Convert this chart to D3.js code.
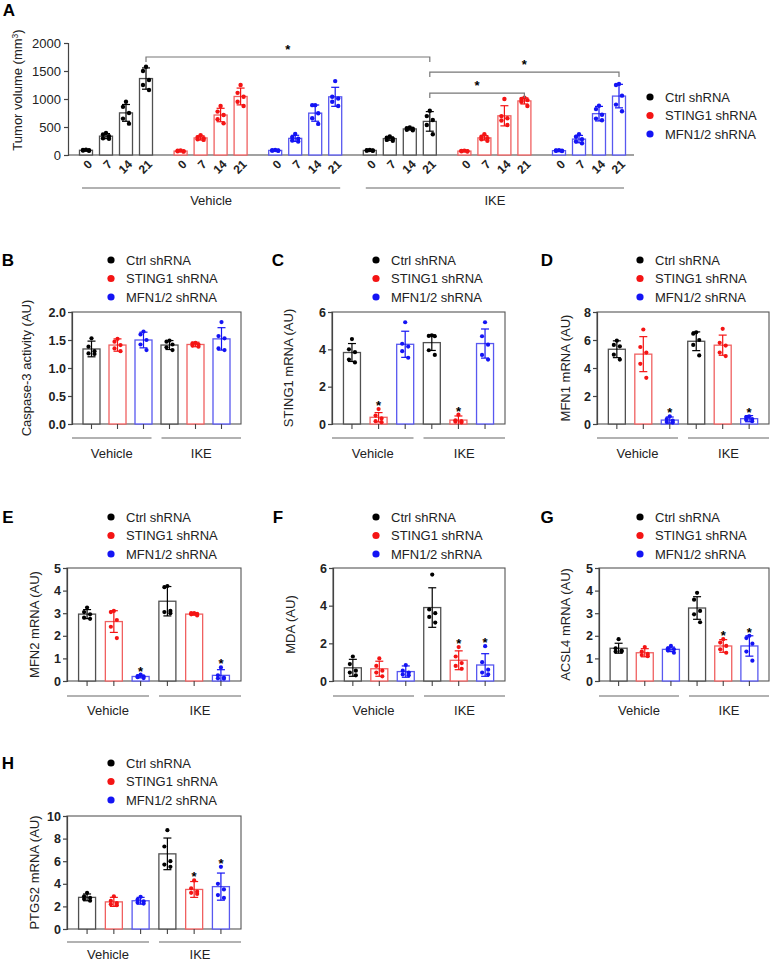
<!DOCTYPE html>
<html lang="en">
<head>
<meta charset="UTF-8">
<title>Tumor volume and ferroptosis markers</title>
<script src="https://d3js.org/d3.v7.min.js"></script>
<style>
  body { margin: 0; background: #fff; }
  svg { font-family: "Liberation Sans", Arial, sans-serif; display: block; }
</style>
</head>
<body>
<div id="fig"></div>
<script>
const groups = ["Ctrl shRNA", "STING1 shRNA", "MFN1/2 shRNA"];
const colors = ["#000000", "#f41414", "#1414f4"];
const barStroke = ["#505050", "#f06060", "#5858f0"];
const treatments = ["Vehicle", "IKE"];
const days = ["0", "7", "14", "21"];

// panel A, 6 groups: Vehicle ctrl/STING1/MFN, IKE ctrl/STING1/MFN ; 4 days each
const tumorMean = [
  [85, 337, 752, 1365], [70, 305, 714, 1045], [82, 297, 748, 1039],
  [82, 293, 466, 600], [70, 306, 700, 966], [78, 284, 738, 1052]
];
const tumorSD = [
  [10, 45, 150, 190], [8, 38, 120, 150], [6, 55, 145, 170],
  [6, 30, 20, 175], [7, 40, 180, 55], [7, 65, 130, 210]
];
const tumorPts = [
  [[95, 90, 85, 80, 75], [395, 365, 335, 300, 290], [950, 860, 750, 650, 560], [1575, 1500, 1340, 1250, 1160]],
  [[80, 75, 70, 65, 60], [355, 320, 300, 280, 270], [875, 775, 715, 640, 565], [1250, 1110, 1040, 950, 875]],
  [[90, 85, 80, 78, 75], [375, 320, 290, 260, 240], [890, 890, 745, 655, 555], [1320, 1040, 1010, 950, 875]],
  [[90, 85, 80, 78, 75], [330, 310, 290, 270, 255], [490, 480, 470, 450, 440], [790, 695, 625, 535, 370]],
  [[78, 74, 70, 66, 62], [370, 325, 300, 280, 255], [1000, 695, 655, 615, 535], [1025, 1000, 980, 950, 875]],
  [[85, 80, 78, 75, 70], [370, 325, 280, 240, 210], [880, 820, 720, 650, 620], [1270, 1250, 1060, 900, 780]]
];
// brackets: [groupA, groupB, y value] at day 21
const brackets = [[0, 3, 1750], [3, 5, 1480], [3, 4, 1105]];

// panels B-H, bar order: Vehicle ctrl, STING1, MFN ; IKE ctrl, STING1, MFN
const caspMean = [1.34, 1.41, 1.50, 1.41, 1.42, 1.52];
const caspSD = [0.14, 0.11, 0.14, 0.08, 0.04, 0.20];
const caspPts = [[1.53, 1.38, 1.30, 1.26, 1.25], [1.52, 1.47, 1.41, 1.35, 1.30], [1.65, 1.60, 1.50, 1.42, 1.32],
  [1.49, 1.47, 1.42, 1.37, 1.32], [1.45, 1.44, 1.42, 1.40, 1.38], [1.82, 1.57, 1.53, 1.35, 1.32]];

const stingMean = [3.83, 0.36, 4.27, 4.36, 0.21, 4.31];
const stingSD = [0.48, 0.25, 0.70, 0.42, 0.22, 0.78];
const stingPts = [[4.55, 4.0, 3.85, 3.45, 3.3], [0.8, 0.45, 0.3, 0.15, 0.1], [5.45, 4.3, 4.15, 3.9, 3.55],
  [4.75, 4.72, 4.7, 3.95, 3.7], [0.5, 0.2, 0.15, 0.12, 0.08], [5.45, 4.7, 4.25, 3.7, 3.45]];

const mfn1Mean = [5.34, 4.99, 0.28, 5.91, 5.63, 0.38];
const mfn1SD = [0.6, 1.25, 0.22, 0.67, 0.72, 0.22];
const mfn1Pts = [[5.95, 5.65, 5.55, 4.95, 4.6], [6.75, 5.5, 5.1, 4.3, 3.3], [0.55, 0.35, 0.25, 0.15, 0.1],
  [6.55, 6.45, 6.0, 5.65, 4.9], [6.8, 5.8, 5.6, 5.1, 4.85], [0.55, 0.5, 0.35, 0.3, 0.2]];

const mfn2Mean = [2.96, 2.63, 0.2, 3.53, 2.96, 0.25];
const mfn2SD = [0.2, 0.48, 0.06, 0.65, 0.05, 0.25];
const mfn2Pts = [[3.25, 3.05, 2.95, 2.8, 2.75], [3.1, 3.05, 2.7, 2.4, 1.9], [0.28, 0.22, 0.2, 0.17, 0.13],
  [4.2, 4.15, 3.1, 3.05, 3.0], [3.0, 3.0, 2.97, 2.95, 2.9], [0.6, 0.25, 0.15, 0.12, 0.1]];

const mdaMean = [0.7, 0.65, 0.5, 3.9, 1.1, 0.85];
const mdaSD = [0.45, 0.4, 0.3, 1.05, 0.5, 0.6];
const mdaPts = [[1.3, 0.9, 0.55, 0.45, 0.3], [1.2, 0.8, 0.55, 0.45, 0.25], [0.85, 0.55, 0.45, 0.35, 0.3],
  [5.65, 3.8, 3.6, 3.4, 3.1], [1.8, 1.3, 0.95, 0.8, 0.65], [1.85, 1.0, 0.6, 0.45, 0.35]];

const acslMean = [1.45, 1.25, 1.4, 3.23, 1.55, 1.55];
const acslSD = [0.22, 0.18, 0.1, 0.5, 0.28, 0.45];
const acslPts = [[1.85, 1.45, 1.35, 1.3, 1.3], [1.5, 1.3, 1.2, 1.15, 1.1], [1.55, 1.45, 1.4, 1.35, 1.25],
  [3.9, 3.6, 3.1, 2.95, 2.6], [1.85, 1.7, 1.55, 1.4, 1.25], [2.0, 1.9, 1.65, 1.3, 0.9]];

const ptgsMean = [2.8, 2.4, 2.5, 6.65, 3.5, 3.75];
const ptgsSD = [0.3, 0.4, 0.3, 1.4, 0.7, 1.2];
const ptgsPts = [[3.2, 2.9, 2.75, 2.65, 2.5], [2.9, 2.5, 2.3, 2.2, 2.1], [2.85, 2.6, 2.45, 2.35, 2.25],
  [8.75, 7.3, 6.0, 5.7, 5.5], [4.3, 3.6, 3.3, 3.2, 3.1], [5.5, 4.0, 3.5, 3.0, 2.75]];

const jitter = [0, -3, 3, -3, 3];

const svg = d3.select("#fig").append("svg").attr("width", 772).attr("height", 963);

// ---------- panel A ----------
const A = {left: 68, right: 634, top: 43, bottom: 155};
const yA = d3.scaleLinear().domain([0, 2000]).range([A.bottom, A.top]);
const xGroup = d3.scaleBand().domain(d3.range(6)).range([76, 76 + 6 * 94.6]);
const xDay = d3.scaleBand().domain(days).range([0, 80]).paddingInner(0.35).paddingOuter(0.175);
const cxA = (g, d) => xGroup(g) + xDay(d) + xDay.bandwidth() / 2;

const gA = svg.append("g");
gA.append("text").attr("x", 9).attr("y", 16).attr("text-anchor", "middle")
  .style("font-size", "17px").style("font-weight", "bold").text("A");

const axA = gA.append("g").attr("transform", `translate(${A.left},0)`)
  .call(d3.axisLeft(yA).tickValues([0, 500, 1000, 1500, 2000]).tickFormat(d3.format("d")).tickSize(4).tickPadding(3));
axA.selectAll("path, line").attr("stroke", "#444").attr("stroke-width", 1.2);
axA.selectAll("text").style("font-size", "13px").attr("fill", "#222").attr("font-family", null);
gA.append("line").attr("x1", A.left).attr("x2", A.right).attr("y1", A.bottom).attr("y2", A.bottom)
  .attr("stroke", "#444").attr("stroke-width", 1.2);

gA.append("text").attr("transform", `translate(17,${90}) rotate(-90)`).attr("text-anchor", "middle")
  .attr("dy", "0.35em").style("font-size", "13px").attr("fill", "#222")
  .html("Tumor volume (mm<tspan dy='-4' font-size='8.5px'>3</tspan><tspan dy='4'>)</tspan>");

tumorMean.forEach((row, g) => {
  const c = g % 3;
  row.forEach((m, i) => {
    const d = days[i];
    const cx = cxA(g, d), sd = tumorSD[g][i];
    gA.append("rect").attr("x", xGroup(g) + xDay(d)).attr("width", xDay.bandwidth())
      .attr("y", yA(m)).attr("height", A.bottom - yA(m))
      .attr("fill", "#fff").attr("stroke", barStroke[c]).attr("stroke-width", 1.3);
    const eb = gA.append("g").attr("stroke", colors[c]).attr("stroke-width", 1.2);
    eb.append("line").attr("x1", cx).attr("x2", cx).attr("y1", yA(m - sd)).attr("y2", yA(m + sd));
    [m - sd, m + sd].forEach(v => eb.append("line").attr("x1", cx - 4).attr("x2", cx + 4)
      .attr("y1", yA(v)).attr("y2", yA(v)));
    gA.selectAll(null).data(tumorPts[g][i]).enter().append("circle")
      .attr("cx", (v, k) => cx + jitter[k]).attr("cy", v => yA(v)).attr("r", 2.2)
      .attr("fill", colors[c]);
    gA.append("text").attr("transform", `translate(${cx + 4},162) rotate(-45)`)
      .attr("text-anchor", "end").attr("dy", "0.35em").style("font-size", "12px")
      .style("font-weight", "bold").attr("fill", "#222").text(d);
  });
});

treatments.forEach((t, k) => {
  const x1 = cxA(3 * k, "0") - 4, x2 = cxA(3 * k + 2, "21") + 5;
  gA.append("line").attr("x1", x1).attr("x2", x2).attr("y1", 188).attr("y2", 188)
    .attr("stroke", "#999").attr("stroke-width", 1.5);
  gA.append("text").attr("x", (x1 + x2) / 2).attr("y", 205).attr("text-anchor", "middle")
    .style("font-size", "13px").attr("fill", "#222").text(t);
});

brackets.forEach(([g1, g2, v]) => {
  const x1 = cxA(g1, "21"), x2 = cxA(g2, "21"), y = yA(v);
  gA.append("path").attr("d", `M${x1},${y + 5}V${y}H${x2}V${y + 5}`)
    .attr("fill", "none").attr("stroke", "#777").attr("stroke-width", 1.2);
  gA.append("text").attr("x", (x1 + x2) / 2).attr("y", y - 3).attr("text-anchor", "middle")
    .style("font-size", "13px").style("font-weight", "bold").text("*");
});

function legend(g, x, y) {
  groups.forEach((name, i) => {
    g.append("circle").attr("cx", x).attr("cy", y + i * 18.5).attr("r", 3.6).attr("fill", colors[i]);
    g.append("text").attr("x", x + 15).attr("y", y + i * 18.5).attr("dy", "0.35em")
      .style("font-size", "13px").attr("fill", "#222").text(name);
  });
}
legend(gA, 650, 97);

// ---------- panels B-H ----------
const rows = [
  {top: 312, bottom: 424, leg: 260, line: 14, lab: 29},
  {top: 568, bottom: 681, leg: 517, line: 15, lab: 29},
  {top: 816, bottom: 929, leg: 763, line: 13, lab: 25}
];
const cols = [{x1: 241, letter: 8, leg: 111}, {x1: 505, letter: 278, leg: 376}, {x1: 769, letter: 547, leg: 640}];

const panels = [
  {id: "B", row: 0, col: 0, x0: 72, tx: 26, title: "Caspase-3 activity (AU)", max: 2, ticks: [0, 0.5, 1, 1.5, 2], fmt: ".1f", mean: caspMean, sd: caspSD, pts: caspPts, stars: []},
  {id: "C", row: 0, col: 1, x0: 332, tx: 288, title: "STING1 mRNA (AU)", max: 6, ticks: [0, 2, 4, 6], fmt: "d", mean: stingMean, sd: stingSD, pts: stingPts, stars: [1, 4]},
  {id: "D", row: 0, col: 2, x0: 597, tx: 565, title: "MFN1 mRNA (AU)", max: 8, ticks: [0, 2, 4, 6, 8], fmt: "d", mean: mfn1Mean, sd: mfn1SD, pts: mfn1Pts, stars: [2, 5]},
  {id: "E", row: 1, col: 0, x0: 67, tx: 34, title: "MFN2 mRNA (AU)", max: 5, ticks: [0, 1, 2, 3, 4, 5], fmt: "d", mean: mfn2Mean, sd: mfn2SD, pts: mfn2Pts, stars: [2, 5]},
  {id: "F", row: 1, col: 1, x0: 333, tx: 290, title: "MDA (AU)", max: 6, ticks: [0, 2, 4, 6], fmt: "d", mean: mdaMean, sd: mdaSD, pts: mdaPts, stars: [4, 5]},
  {id: "G", row: 1, col: 2, x0: 599, tx: 565, title: "ACSL4 mRNA (AU)", max: 5, ticks: [0, 1, 2, 3, 4, 5], fmt: "d", mean: acslMean, sd: acslSD, pts: acslPts, stars: [4, 5]},
  {id: "H", row: 2, col: 0, x0: 67, tx: 34, title: "PTGS2 mRNA (AU)", max: 10, ticks: [0, 2, 4, 6, 8, 10], fmt: "d", mean: ptgsMean, sd: ptgsSD, pts: ptgsPts, stars: [4, 5]}
];

panels.forEach(p => {
  const r = rows[p.row], c = cols[p.col];
  const x1 = c.x1;
  const g = svg.append("g");
  const y = d3.scaleLinear().domain([0, p.max]).range([r.bottom, r.top]);
  const x = d3.scalePoint().domain(d3.range(6)).range([p.x0, x1]).padding(0.75);

  g.append("text").attr("x", c.letter).attr("y", r.leg).attr("dy", "0.35em").attr("text-anchor", "middle")
    .style("font-size", "17px").style("font-weight", "bold").text(p.id);
  legend(g, c.leg, r.leg);

  g.append("rect").attr("x", p.x0).attr("y", r.top).attr("width", x1 - p.x0).attr("height", r.bottom - r.top)
    .attr("fill", "none").attr("stroke", "#555").attr("stroke-width", 1.1);
  const ax = g.append("g").attr("transform", `translate(${p.x0},0)`)
    .call(d3.axisLeft(y).tickValues(p.ticks).tickFormat(d3.format(p.fmt)).tickSize(4).tickPadding(2));
  ax.selectAll("path, line").attr("stroke", "#444").attr("stroke-width", 1.2);
  ax.selectAll("text").style("font-size", "12.5px").style("font-weight", "bold").attr("fill", "#222")
    .attr("font-family", null);

  g.append("text").attr("transform", `translate(${p.tx},${(r.top + r.bottom) / 2}) rotate(-90)`)
    .attr("text-anchor", "middle").attr("dy", "0.35em").style("font-size", "13px").attr("fill", "#222")
    .text(p.title);

  p.mean.forEach((m, i) => {
    const col = i % 3, cx = x(i), sd = p.sd[i];
    g.append("rect").attr("x", cx - 8.5).attr("width", 17).attr("y", y(m)).attr("height", r.bottom - y(m))
      .attr("fill", "#fff").attr("stroke", barStroke[col]).attr("stroke-width", 1.3);
    const eb = g.append("g").attr("stroke", colors[col]).attr("stroke-width", 1.2);
    eb.append("line").attr("x1", cx).attr("x2", cx).attr("y1", y(Math.max(0, m - sd))).attr("y2", y(m + sd));
    [m - sd, m + sd].filter(v => v > 0).forEach(v => eb.append("line").attr("x1", cx - 4).attr("x2", cx + 4)
      .attr("y1", y(v)).attr("y2", y(v)));
    g.selectAll(null).data(p.pts[i]).enter().append("circle")
      .attr("cx", (v, k) => cx + jitter[k]).attr("cy", v => y(v)).attr("r", 2.1).attr("fill", colors[col]);
    g.append("line").attr("x1", cx).attr("x2", cx).attr("y1", r.bottom).attr("y2", r.bottom + 5)
      .attr("stroke", "#444").attr("stroke-width", 1.1);
    if (p.stars.includes(i)) {
      const top = y(Math.max(m + sd, d3.max(p.pts[i])));
      g.append("text").attr("x", cx).attr("y", top + 1).attr("text-anchor", "middle")
        .style("font-size", "13px").style("font-weight", "bold").text("*");
    }
  });

  const mid = (p.x0 + x1) / 2;
  [[p.x0, mid - 5], [mid + 5, x1]].forEach(([a, b], k) => {
    g.append("line").attr("x1", a).attr("x2", b).attr("y1", r.bottom + r.line).attr("y2", r.bottom + r.line)
      .attr("stroke", "#999").attr("stroke-width", 1.5);
    g.append("text").attr("x", (a + b) / 2).attr("y", r.bottom + r.lab).attr("dy", "0.35em").attr("text-anchor", "middle")
      .style("font-size", "13px").attr("fill", "#222").text(treatments[k]);
  });
});
</script>
</body>
</html>
